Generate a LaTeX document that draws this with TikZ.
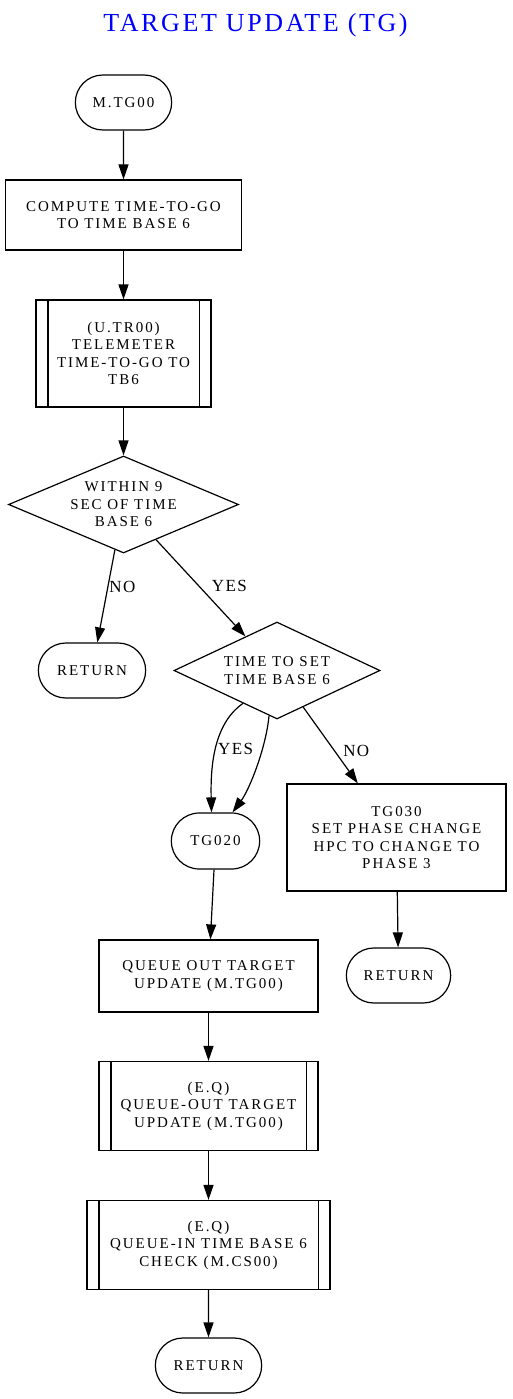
\documentclass[tikz,border=0pt]{standalone}
\usepackage{fontspec}
\setmainfont{Liberation Serif}
\newfontfamily\nodefont[LetterSpace=13]{Liberation Serif}
\newfontfamily\titlefont[LetterSpace=10]{Liberation Serif}
\newfontfamily\labfont[LetterSpace=8]{Liberation Serif}
\usetikzlibrary{shapes.geometric,shapes.misc,arrows.meta}
\tikzstyle{r} = [rectangle, draw=black, align=center, minimum height=55pt, font=\nodefont\fontsize{15}{17.4}\selectfont]
\tikzstyle{term} = [r, rounded rectangle]
\tikzstyle{sub} = [r, append after command={([xshift=12.5pt]\tikzlastnode.north west) edge ([xshift=12.5pt]\tikzlastnode.south west) ([xshift=-12.5pt]\tikzlastnode.north east) edge ([xshift=-12.5pt]\tikzlastnode.south east)}]
\tikzstyle{dec} = [r, diamond, aspect=2.3, inner sep=0pt]
\tikzstyle{lab} = [font=\labfont\fontsize{17}{20}\selectfont]
\tikzstyle{head} = [font=\titlefont\fontsize{26}{30}\selectfont, text=blue, anchor=base]

\begin{document}
\begin{tikzpicture}[x=1pt, y=1pt, node distance=112.5pt, line width=1.2pt, >={Triangle[length=15pt,width=10pt]}]
		\useasboundingbox (0,0) rectangle (512,-1399);
		\node[head](title) at (255.5,-31.7){TARGET UPDATE (TG)};
		\node[term, minimum width=103pt](start) at (123.5,-102.5){M.TG00};
		\node[r, below of=start, minimum width=236pt, minimum height=70pt](compute){COMPUTE TIME-TO-GO\\TO TIME BASE 6};
		\node[sub, node distance=138.5pt, below of=compute, minimum width=175pt, minimum height=107pt](telem){(U.TR00)\\TELEMETER\\TIME-TO-GO TO\\TB6};
		\node[dec, node distance=151pt, below of=telem, minimum width=230pt, minimum height=97pt](within){WITHIN 9\\SEC OF TIME\\BASE 6};
		\node[term, node distance=166pt, below of=within, xshift=-31.5pt, minimum width=114pt](retA){RETURN};
		\node[dec, node distance=185pt, right of=retA, minimum width=206pt, minimum height=97pt](settb){TIME TO SET\\TIME BASE 6};
		\node[term, node distance=170.5pt, below of=settb, xshift=-61.5pt, minimum width=95pt, minimum height=56pt](tgtwenty){TG020};
		\node[r, node distance=181pt, right of=tgtwenty, yshift=3.5pt, minimum width=219pt, minimum height=107pt](tgthirty){TG030\\SET PHASE CHANGE\\HPC TO CHANGE TO\\PHASE 3};
		\node[term, node distance=138pt, below of=tgthirty, xshift=2pt, minimum width=111pt](retB){RETURN};
		\node[r, node distance=135pt, below of=tgtwenty, xshift=-7pt, minimum width=219pt, minimum height=72pt](qout){QUEUE OUT TARGET\\UPDATE (M.TG00)};
		\node[sub, node distance=130pt, below of=qout, minimum width=219pt, minimum height=89pt](eqout){(E.Q)\\QUEUE-OUT TARGET\\UPDATE (M.TG00)};
		\node[sub, node distance=139pt, below of=eqout, minimum width=243pt, minimum height=89pt](eqin){(E.Q)\\QUEUE-IN TIME BASE 6\\CHECK (M.CS00)};
		\node[term, node distance=120.5pt, below of=eqin, minimum width=113pt](retC){RETURN};
		
		\draw[->](start)--(compute);
		\draw[->](compute)--(telem);
		\draw[->](telem)--(within);
		\draw[->](within)--node[lab, pos=.4, right, inner sep=1pt]{NO}(retA);
		\draw[->](within)--node[lab, pos=.48, right=9pt]{YES}(settb);
		\draw[->](settb.224) .. controls +(-30,-21) and +(-1,44) .. node[lab, pos=.5, right, inner sep=2pt]{YES}([xshift=-4pt]tgtwenty.north);
		\draw[->](settb.260) .. controls +(-3,-32) and +(17,23) .. ([xshift=17pt]tgtwenty.north);
		\draw[->](settb)--node[lab, pos=.57, right=5pt]{NO}(tgthirty);
		\draw[->](tgthirty)--(retB);
		\draw[->](tgtwenty)--(qout);
		\draw[->](qout)--(eqout);
		\draw[->](eqout)--(eqin);
		\draw[->](eqin)--(retC);
	\end{tikzpicture}
\end{document}
